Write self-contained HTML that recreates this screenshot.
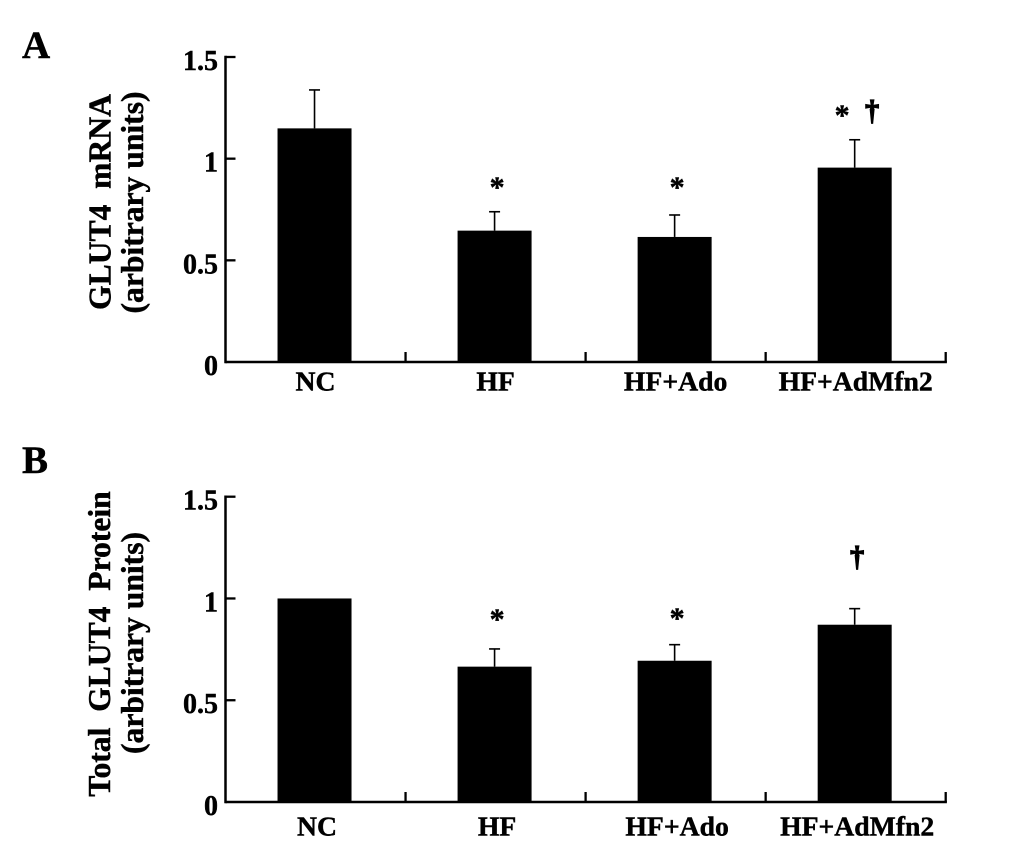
<!DOCTYPE html>
<html lang="en">
<head>
<meta charset="utf-8">
<title>GLUT4 mRNA and protein bar charts</title>
<style>
  html, body { margin: 0; padding: 0; background: #fff; }
  svg { display: block; }
  text { font-family: "Liberation Serif", serif; font-weight: bold; fill: #000; stroke: #000; stroke-width: 0.45px; }
</style>
</head>
<body>
<svg id="figure" xmlns="http://www.w3.org/2000/svg" width="1033" height="857" viewBox="0 0 1033 857">
  <rect x="0" y="0" width="1033" height="857" fill="#ffffff"></rect>
  <text x="22" y="58" font-size="39">A</text>
  <text x="22" y="473" font-size="39">B</text>
  <g id="panel-a">
    <text transform="translate(110.5 202) rotate(-90)" text-anchor="middle" font-size="31.6" xml:space="preserve">GLUT4  mRNA</text>
    <text transform="translate(143 202.5) rotate(-90)" text-anchor="middle" font-size="31.6">(arbitrary units)</text>
  </g>
  <g id="panel-b">
    <text transform="translate(110 644) rotate(-90)" text-anchor="middle" font-size="31.6" xml:space="preserve">Total  GLUT4  Protein</text>
    <text transform="translate(143 643) rotate(-90)" text-anchor="middle" font-size="31.6">(arbitrary units)</text>
  </g>
</svg>
<script>
const categories = ["NC", "HF", "HF+Ado", "HF+AdMfn2"];
const tickValues = [0, 0.5, 1, 1.5];
const tickLabels = ["0", "0.5", "1", "1.5"];

const mrnaValues = [1.149, 0.646, 0.615, 0.956];
const mrnaErrorTops = [1.338, 0.739, 0.723, 1.093];
const mrnaMarks = ["", "*", "*", "*†"];
const mrnaMarkLevels = [0, 0.812, 0.812, 1.166];

const proteinValues = [1.0, 0.665, 0.694, 0.871];
const proteinErrorTops = [1.0, 0.752, 0.773, 0.95];
const proteinMarks = ["", "*", "*", "†"];
const proteinMarkLevels = [0, 0.85, 0.855, 1.135];

const SVG_NS = "http://www.w3.org/2000/svg";

function make(parent, tag, attrs, content) {
  const el = document.createElementNS(SVG_NS, tag);
  for (const key in attrs) el.setAttribute(key, attrs[key]);
  if (content !== undefined) el.textContent = content;
  parent.appendChild(el);
  return el;
}

function slug(label) {
  return label.toLowerCase().replace(/\+/g, "-").replace(/\./g, "-");
}

function drawPanel(opts) {
  const root = document.getElementById(opts.id);
  const prefix = opts.id;
  const left = 225.5, right = 945.7;
  const barWidth = 74, barShift = -1, capHalf = 5.5;
  const step = (right - left) / categories.length;
  const maxTick = tickValues[tickValues.length - 1];
  const yScale = function (v) { return opts.y0 - v * (opts.y0 - opts.yTop) / maxTick; };
  const xCenter = function (i) { return left + step * (i + 0.5) + barShift; };

  categories.forEach(function (cat, i) {
    const key = slug(cat);
    const top = yScale(opts.values[i]);
    const bar = make(root, "rect", { x: xCenter(i) - barWidth / 2, y: top, width: barWidth, height: opts.y0 - top, fill: "#000" });
    
    

    if (opts.errorTops[i] > opts.values[i]) {
      const errTop = yScale(opts.errorTops[i]);
      const stem = make(root, "line", { x1: xCenter(i), x2: xCenter(i), y1: top, y2: errTop, stroke: "#000", "stroke-width": 1.6 });
      
      
      const cap = make(root, "line", { x1: xCenter(i) - capHalf, x2: xCenter(i) + capHalf, y1: errTop, y2: errTop, stroke: "#000", "stroke-width": 1.6 });
      
      
    }

    const symbols = Array.from(opts.marks[i]);
    symbols.forEach(function (sym, k) {
      const isDagger = sym === "†";
      const markX = xCenter(i) + 2.5 + (k - (symbols.length - 1) / 2) * 30;
      const markY = yScale(opts.markLevels[i]) - (isDagger ? 5 : 0);
      const mark = make(root, "text", { x: markX, y: markY, "text-anchor": "middle", "font-size": isDagger ? 28 : 30, style: isDagger ? "stroke-width:1.3px" : "" }, sym);
      
      
    });

    const label = make(root, "text", { x: xCenter(i) + opts.labelShift, y: opts.labelY, "text-anchor": "middle", "font-size": 27.7 }, cat);
    
    
  });

  const yAxis = make(root, "line", { x1: left, x2: left, y1: opts.yTop - 1.2, y2: opts.y0 + 1.2, stroke: "#000", "stroke-width": 2.5 });
  
  

  const xAxis = make(root, "line", { x1: left, x2: right + 1.2, y1: opts.y0, y2: opts.y0, stroke: "#000", "stroke-width": 2.5 });
  
  

  tickValues.forEach(function (v, i) {
    const y = yScale(v);
    if (v > 0) {
      const tick = make(root, "line", { x1: left, x2: left + 10, y1: y, y2: y, stroke: "#000", "stroke-width": 2.3 });
      
      
    }
    const tickText = make(root, "text", { x: 218, y: y + 13, "text-anchor": "end", "font-size": 28 }, tickLabels[i]);
    
    
  });

  categories.forEach(function (cat, i) {
    const x = left + step * (i + 1);
    const xTick = make(root, "line", { x1: x, x2: x, y1: opts.y0, y2: opts.y0 - 10, stroke: "#000", "stroke-width": 2.3 });
    
    
  });
}

drawPanel({
  id: "panel-a", y0: 362, yTop: 57, labelY: 390.5, labelShift: 1,
  values: mrnaValues, errorTops: mrnaErrorTops, marks: mrnaMarks, markLevels: mrnaMarkLevels
});
drawPanel({
  id: "panel-b", y0: 802, yTop: 496.7, labelY: 835.5, labelShift: 2.5,
  values: proteinValues, errorTops: proteinErrorTops, marks: proteinMarks, markLevels: proteinMarkLevels
});
</script>
</body>
</html>
